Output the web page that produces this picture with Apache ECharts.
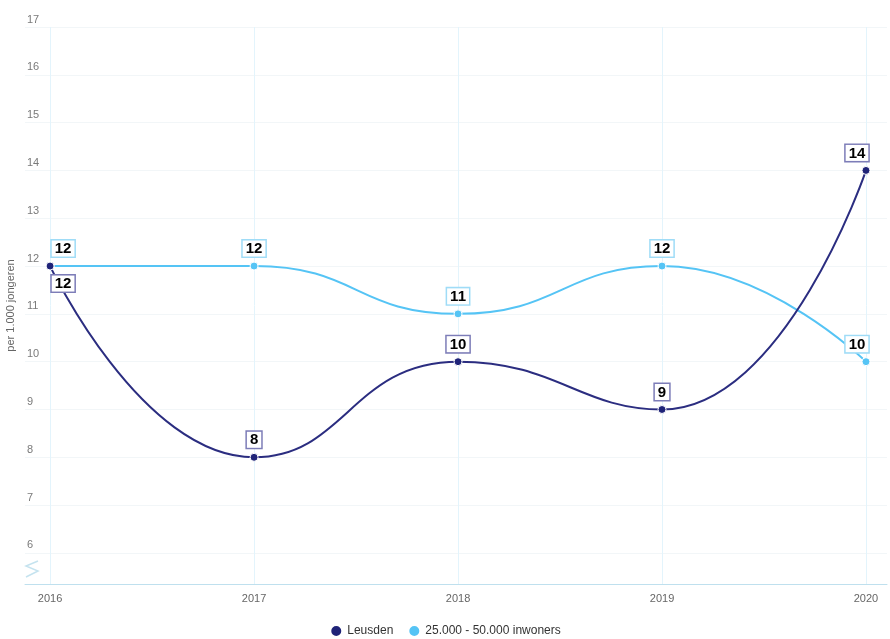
<!DOCTYPE html>
<html><head><meta charset="utf-8">
<script src="https://cdn.jsdelivr.net/npm/echarts@6/dist/echarts.min.js"></script>
<style>html,body{margin:0;padding:0;background:#fff}#c{width:890px;height:639px}</style>
</head><body><div id="c"></div>
<script>
const categories = ['2016', '2017', '2018', '2019', '2020'];
const leusden = [12, 8, 10, 9, 14];
const gemeenten = [12, 12, 11, 12, 10];
const yTicks = [6, 7, 8, 9, 10, 11, 12, 13, 14, 15, 16, 17];
const seriesNames = ['Leusden', '25.000 - 50.000 inwoners'];
const yAxisName = 'per 1.000 jongeren';

const years = categories.map(Number);
const chart = echarts.init(document.getElementById('c'), null, {renderer: 'canvas'});
const font = '"Liberation Sans", Arial, sans-serif';
function lbl(border) {
  return {show: true, position: 'top', distance: 5, color: '#000', fontWeight: 'bold', fontSize: 15, fontFamily: font,
    backgroundColor: '#fff', borderColor: border, borderWidth: 1.5, padding: [1, 3, 0, 3]};
}
function edgeOffset(i) {
  if (i === 0) return [13, 0];
  if (i === years.length - 1) return [-9, 0];
  return [0, 0];
}
chart.setOption({
  animation: false,
  textStyle: {fontFamily: font},
  grid: {left: 25, right: 3, top: 27, bottom: 55, containLabel: false, outerBoundsMode: 'none'},
  legend: {
    data: seriesNames, top: 619, icon: 'circle', itemWidth: 12, itemHeight: 12, itemGap: 14,
    textStyle: {fontSize: 12, color: '#333', fontFamily: font}
  },
  xAxis: {
    type: 'value', min: 2015.877, max: 2020.103,
    axisLine: {show: true, lineStyle: {color: '#bfe0ee', width: 1}},
    axisTick: {show: false, customValues: years},
    axisLabel: {customValues: years, color: '#666', fontSize: 11, margin: 9, formatter: v => String(Math.round(v))},
    splitLine: {show: true, customValues: years, lineStyle: {color: '#e3f4fc', width: 1}}
  },
  yAxis: {
    type: 'value', min: 5.35, max: 17,
    name: yAxisName, nameLocation: 'middle', nameGap: 6, nameRotate: 90,
    nameTextStyle: {color: '#666', fontSize: 11},
    axisLine: {show: false},
    axisTick: {show: false, customValues: yTicks},
    axisLabel: {customValues: yTicks, color: '#7a7a7a', fontSize: 11, align: 'left', margin: -2, verticalAlign: 'bottom', padding: [0, 0, 2, 0]},
    splitLine: {show: true, customValues: yTicks, lineStyle: {color: '#f2f6f8', width: 1}}
  },
  graphic: [{
    type: 'polyline', silent: true,
    shape: {points: [[38, 561], [26, 566], [38, 571], [26, 577]]},
    style: {stroke: '#c5e3ef', lineWidth: 1.5, fill: null}
  }],
  series: [
    {
      name: seriesNames[1], type: 'line', smooth: 0.5, z: 2,
      data: years.map((y, i) => ({value: [y, gemeenten[i]], label: {offset: edgeOffset(i)}})),
      symbol: 'circle', symbolSize: 8,
      lineStyle: {color: '#55c4f5', width: 2},
      itemStyle: {color: '#55c4f5', borderColor: '#fff', borderWidth: 1},
      label: lbl('#9fdcf7')
    },
    {
      name: seriesNames[0], type: 'line', smooth: 0.5, z: 3,
      data: years.map((y, i) => ({value: [y, leusden[i]],
        label: i === 0 ? {position: 'bottom', distance: 5, offset: edgeOffset(i)} : {offset: edgeOffset(i)}})),
      symbol: 'circle', symbolSize: 8,
      lineStyle: {color: '#2b2d80', width: 2},
      itemStyle: {color: '#1f2378', borderColor: '#fff', borderWidth: 1},
      label: lbl('#7d7db8')
    }
  ]
});
</script></body></html>
